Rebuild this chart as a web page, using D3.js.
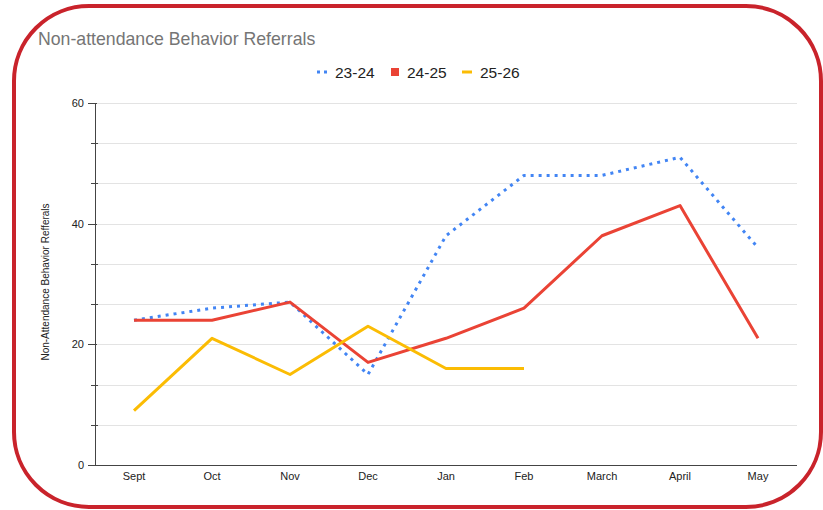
<!DOCTYPE html>
<html>
<meta charset="utf-8">
<head>
<style>
body { margin: 0; background: #fff; }
svg text { font-family: "Liberation Sans", Arial, sans-serif; }
.grid line { stroke: #e3e3e3; shape-rendering: crispEdges; }
.axis path, .axis line { stroke: #444; shape-rendering: crispEdges; }
.axis text { font-size: 11px; fill: #222; }
</style>
</head>
<body>
<svg width="823" height="510"></svg>
<script src="https://d3js.org/d3.v7.min.js"></script>
<script>

var months = ["Sept", "Oct", "Nov", "Dec", "Jan", "Feb", "March", "April", "May"];
var seriesNames = ["23-24", "24-25", "25-26"];
var s2324 = [24, 26, 27, 15, 38, 48, 48, 51, 36];
var s2425 = [24, 24, 27, 17, 21, 26, 38, 43, 21];
var s2526 = [9, 21, 15, 23, 16, 16];
var yTicks = [0, 20, 40, 60];

var colors = ["#4285f4", "#ea4335", "#fbbc04"];

var svg = d3.select("svg"),
  plot = {left: 95, right: 797, top: 103, bottom: 465};

// frame
svg.append("rect")
  .attr("x", 14).attr("y", 6)
  .attr("width", 807).attr("height", 501)
  .attr("rx", 75).attr("ry", 75)
  .attr("fill", "none")
  .attr("stroke", "#c9232b")
  .attr("stroke-width", 4);

var x = d3.scaleBand().domain(months).range([plot.left, plot.right]),
  y = d3.scaleLinear().domain([0, 60]).range([plot.bottom, plot.top]);

// gridlines every 20/3
var gridVals = d3.range(1, 10).map(function(i) { return i * 20 / 3; });
svg.append("g").attr("class", "grid")
  .selectAll("line").data(gridVals).enter().append("line")
  .attr("x1", plot.left).attr("x2", plot.right)
  .attr("y1", function(d) { return Math.round(y(d)) + 0.5; })
  .attr("y2", function(d) { return Math.round(y(d)) + 0.5; });

// y axis
var yAxis = d3.axisLeft(y).tickValues(yTicks).tickSize(7).tickPadding(4);
var gy = svg.append("g").attr("class", "axis")
  .attr("transform", "translate(" + plot.left + ",0)")
  .call(yAxis);
gy.select(".domain").attr("d", "M0.5," + plot.top + "V" + plot.bottom);
gy.selectAll(".tick line").attr("x1", 2);
// minor ticks
svg.append("g").attr("class", "axis")
  .selectAll("line").data(gridVals.filter(function(d, i) { return (i + 1) % 3 != 0; }))
  .enter().append("line")
  .attr("x1", plot.left - 4).attr("x2", plot.left + 3)
  .attr("y1", function(d) { return Math.round(y(d)) + 0.5; })
  .attr("y2", function(d) { return Math.round(y(d)) + 0.5; });

// x axis
var xAxis = d3.axisBottom(x).tickSize(0).tickPadding(7);
var gx = svg.append("g").attr("class", "axis")
  .attr("transform", "translate(0," + plot.bottom + ")")
  .call(xAxis);
gx.select(".domain").attr("d", "M" + (plot.left - 6) + ",0.5H" + plot.right);

// y label
svg.append("text")
  .attr("transform", "translate(49,282) rotate(-90)")
  .attr("text-anchor", "middle")
  .style("font-size", "10px")
  .attr("fill", "#222")
  .text("Non-Attendance Behavior Refferals");

// title
svg.append("text")
  .attr("x", 38).attr("y", 45)
  .style("font-size", "17.7px")
  .attr("fill", "#757575")
  .text("Non-attendance Behavior Referrals");

// lines
var line = d3.line()
  .x(function(d, i) { return x(months[i]) + x.bandwidth() / 2; })
  .y(function(d) { return y(d); });

[s2324, s2425, s2526].forEach(function(s, k) {
  svg.append("path")
    .datum(s)
    .attr("fill", "none")
    .attr("stroke", colors[k])
    .attr("stroke-width", 3)
    .attr("stroke-linejoin", "round")
    .attr("stroke-dasharray", k == 0 ? "3,5" : null)
    .attr("d", line);
});

// legend
var legend = svg.append("g").attr("transform", "translate(0,72)");
var legX = [317, 391, 462];
seriesNames.forEach(function(name, k) {
  if (k == 0) {
    legend.append("line")
      .attr("x1", legX[k]).attr("x2", legX[k] + 10)
      .attr("y1", 0).attr("y2", 0)
      .attr("stroke", colors[k]).attr("stroke-width", 3)
      .attr("stroke-dasharray", "3,4");
  } else if (k == 1) {
    legend.append("rect")
      .attr("x", legX[k]).attr("y", -4)
      .attr("width", 8).attr("height", 8)
      .attr("fill", colors[k]);
  } else {
    legend.append("line")
      .attr("x1", legX[k]).attr("x2", legX[k] + 10)
      .attr("y1", 0).attr("y2", 0)
      .attr("stroke", colors[k]).attr("stroke-width", 3);
  }
  legend.append("text")
    .attr("x", legX[k] + (k == 1 ? 16 : 18)).attr("y", 5.5)
    .style("font-size", "15.5px")
    .attr("fill", "#222")
    .text(name);
});

</script>
</body>
</html>
